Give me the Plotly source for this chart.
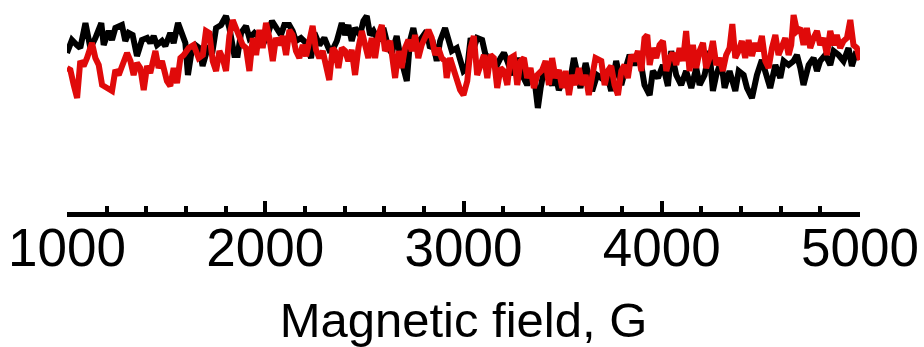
import plotly.graph_objects as go

# Field (G) and EPR signal (arbitrary units)
black_field = [1000,1025,1050,1067,1093,1118,1143,1173,1185,1210,1227,1244,1277,1294,1311,1331,1353,1378,1404,1420,
               1437,1454,1479,1496,1521,1538,1560,1580,1597,1610,1631,1647,1667,1684,1710,1735,1752,1777,1802,1819,
               1844,1861,1878,1903,1920,1945,1970,1987,2012,2034,2054,2079,2096,2121,2138,2155,2180,2206,2231,2248,
               2273,2298,2323,2344,2361,2386,2403,2419,2436,2453,2478,2495,2512,2529,2546,2571,2596,2621,2638,2663,
               2680,2697,2714,2730,2747,2764,2789,2814,2831,2848,2865,2882,2907,2924,2941,2966,2983,3000,3019,3036,
               3052,3069,3094,3111,3136,3162,3187,3204,3221,3246,3271,3296,3321,3347,3363,3375,3389,3405,3431,3447,
               3464,3481,3506,3532,3557,3574,3590,3616,3632,3649,3674,3695,3720,3745,3770,3796,3821,3838,3863,3888,
               3913,3939,3955,3981,4006,4031,4048,4073,4098,4123,4149,4174,4191,4216,4241,4258,4275,4300,4317,4342,
               4371,4388,4413,4430,4455,4480,4505,4531,4547,4573,4598,4615,4640,4665,4682,4699,4715,4741,4766,4783,
               4799,4825,4850,4867,4892,4917,4942,4959,4976,5000]
black_signal = [7,20,15,12,37,12,22,37,15,29,20,32,35,19,27,25,4,20,22,17,
                24,15,19,14,27,17,37,25,17,-15,12,15,12,-6,12,10,32,35,44,32,
                5,5,27,34,22,27,22,15,25,39,32,25,35,35,29,19,22,17,2,27,
                15,22,10,12,19,37,25,35,19,32,25,39,44,25,29,19,32,12,7,24,
                5,-11,-21,19,32,15,22,29,12,15,-1,19,32,22,9,12,2,-11,-8,22,
                12,22,20,5,2,-8,2,7,-1,-15,2,-15,-25,-15,-28,-48,-28,-11,-20,-25,
                -15,-30,-18,-28,2,-15,-28,-3,-18,-31,-15,-18,-11,-31,-1,-25,-6,5,-5,5,
                -25,-35,-11,-18,-5,-26,9,-15,-25,-11,-28,-8,-25,-15,9,-31,-15,-1,-28,-11,
                -31,-11,-15,-28,-38,-15,0,-15,-28,-5,-18,-1,-5,-1,5,-8,-25,-5,2,-11,
                -1,5,-5,9,5,-1,12,-6,5,2]

red_field = [1000,1017,1034,1051,1067,1084,1101,1126,1143,1160,1177,1202,1227,1244,1261,1278,1303,1320,1336,1353,
             1370,1387,1404,1420,1446,1462,1479,1504,1521,1538,1555,1572,1589,1614,1639,1664,1685,1701,1718,1735,
             1752,1769,1785,1802,1819,1836,1853,1870,1886,1903,1920,1937,1954,1970,1987,2004,2021,2038,2054,2071,
             2088,2105,2122,2138,2155,2172,2189,2206,2223,2239,2256,2273,2290,2307,2323,2340,2352,2369,2386,2403,
             2419,2436,2453,2470,2487,2504,2520,2537,2554,2571,2588,2604,2630,2655,2672,2688,2705,2722,2739,2756,
             2772,2789,2806,2823,2840,2857,2873,2890,2907,2915,2932,2949,2966,2983,3000,3019,3036,3052,3069,3086,
             3103,3120,3136,3153,3170,3187,3204,3221,3237,3254,3271,3288,3305,3321,3338,3355,3372,3397,3414,3431,
             3447,3464,3481,3498,3515,3532,3548,3565,3582,3599,3616,3632,3649,3666,3695,3712,3728,3745,3762,3779,
             3796,3812,3829,3846,3863,3880,3897,3913,3927,3939,3955,3972,3989,4006,4023,4039,4056,4073,4090,4107,
             4123,4140,4157,4174,4191,4208,4224,4241,4258,4275,4292,4308,4325,4342,4356,4371,4388,4404,4421,4438,
             4455,4472,4488,4505,4522,4539,4556,4573,4589,4606,4623,4640,4653,4665,4682,4699,4715,4732,4749,4766,
             4783,4799,4816,4833,4850,4867,4883,4900,4917,4934,4951,4967,4984,5000]
red_signal = [-8,-10,-25,-38,-1,-6,2,17,2,-5,-25,-28,-31,-10,-15,-6,7,-1,-15,-3,
              -8,-30,-6,-13,9,-8,-1,-21,-26,-8,-23,2,5,12,15,2,5,29,27,-1,
              -11,9,2,-11,24,40,32,25,15,12,-11,22,5,30,12,37,22,-1,22,15,
              24,5,30,25,9,2,15,4,19,34,10,2,9,-5,-20,12,9,-8,12,9,
              -1,10,-15,12,29,15,2,22,2,25,35,9,19,-18,9,-8,12,20,9,25,
              2,15,22,30,22,5,12,2,-1,-18,2,-8,-21,-30,-35,-21,12,24,-15,-5,
              5,-18,5,2,-28,-8,-11,-25,2,4,-25,-1,2,-18,-8,-28,-15,-10,-1,-25,
              2,-18,-10,-28,-11,-35,-15,-25,-8,-25,-15,-35,-15,2,-1,-25,-11,-6,-25,-35,
              -11,-5,-18,5,-1,9,-11,22,25,-5,12,2,15,19,-11,2,7,-5,12,-1,
              29,-11,15,-8,9,17,-8,2,19,-5,2,-11,5,12,36,2,9,19,2,20,
              4,17,9,24,-1,-8,12,25,5,15,22,5,15,45,29,32,15,32,12,22,
              29,15,22,5,29,15,25,12,19,22,40,15,12,0]

x_range = [1000, 5000]
y_range = [-152, 60]
major_ticks = [1000, 2000, 3000, 4000, 5000]
tick_labels = ["1000", "2000", "3000", "4000", "5000"]

fig = go.Figure()
fig.add_trace(go.Scatter(x=black_field, y=black_signal, mode="lines",
                         line=dict(color="#000000", width=6), showlegend=False))
fig.add_trace(go.Scatter(x=red_field, y=red_signal, mode="lines",
                         line=dict(color="#e00a0a", width=6), showlegend=False))

font = "Liberation Sans, Arial, Helvetica, sans-serif"
fig.update_layout(
    width=924, height=347,
    margin=dict(l=67, r=64, t=0, b=135),
    paper_bgcolor="white", plot_bgcolor="white",
    xaxis=dict(range=x_range, tickmode="array", tickvals=major_ticks, ticktext=tick_labels,
               showline=True, linecolor="black", linewidth=4.5,
               ticks="inside", ticklen=11, tickwidth=4, tickcolor="black",
               showgrid=False, zeroline=False,
               ticklabelstandoff=-14,
               tickfont=dict(family=font, size=53, color="black"),
               minor=dict(dtick=200, ticks="inside", ticklen=6, tickwidth=4, tickcolor="black", showgrid=False),
               title=dict(text="Magnetic field, G", font=dict(family=font, size=49, color="black"), standoff=28)),
    yaxis=dict(range=y_range, visible=False, showgrid=False, zeroline=False),
)
fig.write_html("out.html")
